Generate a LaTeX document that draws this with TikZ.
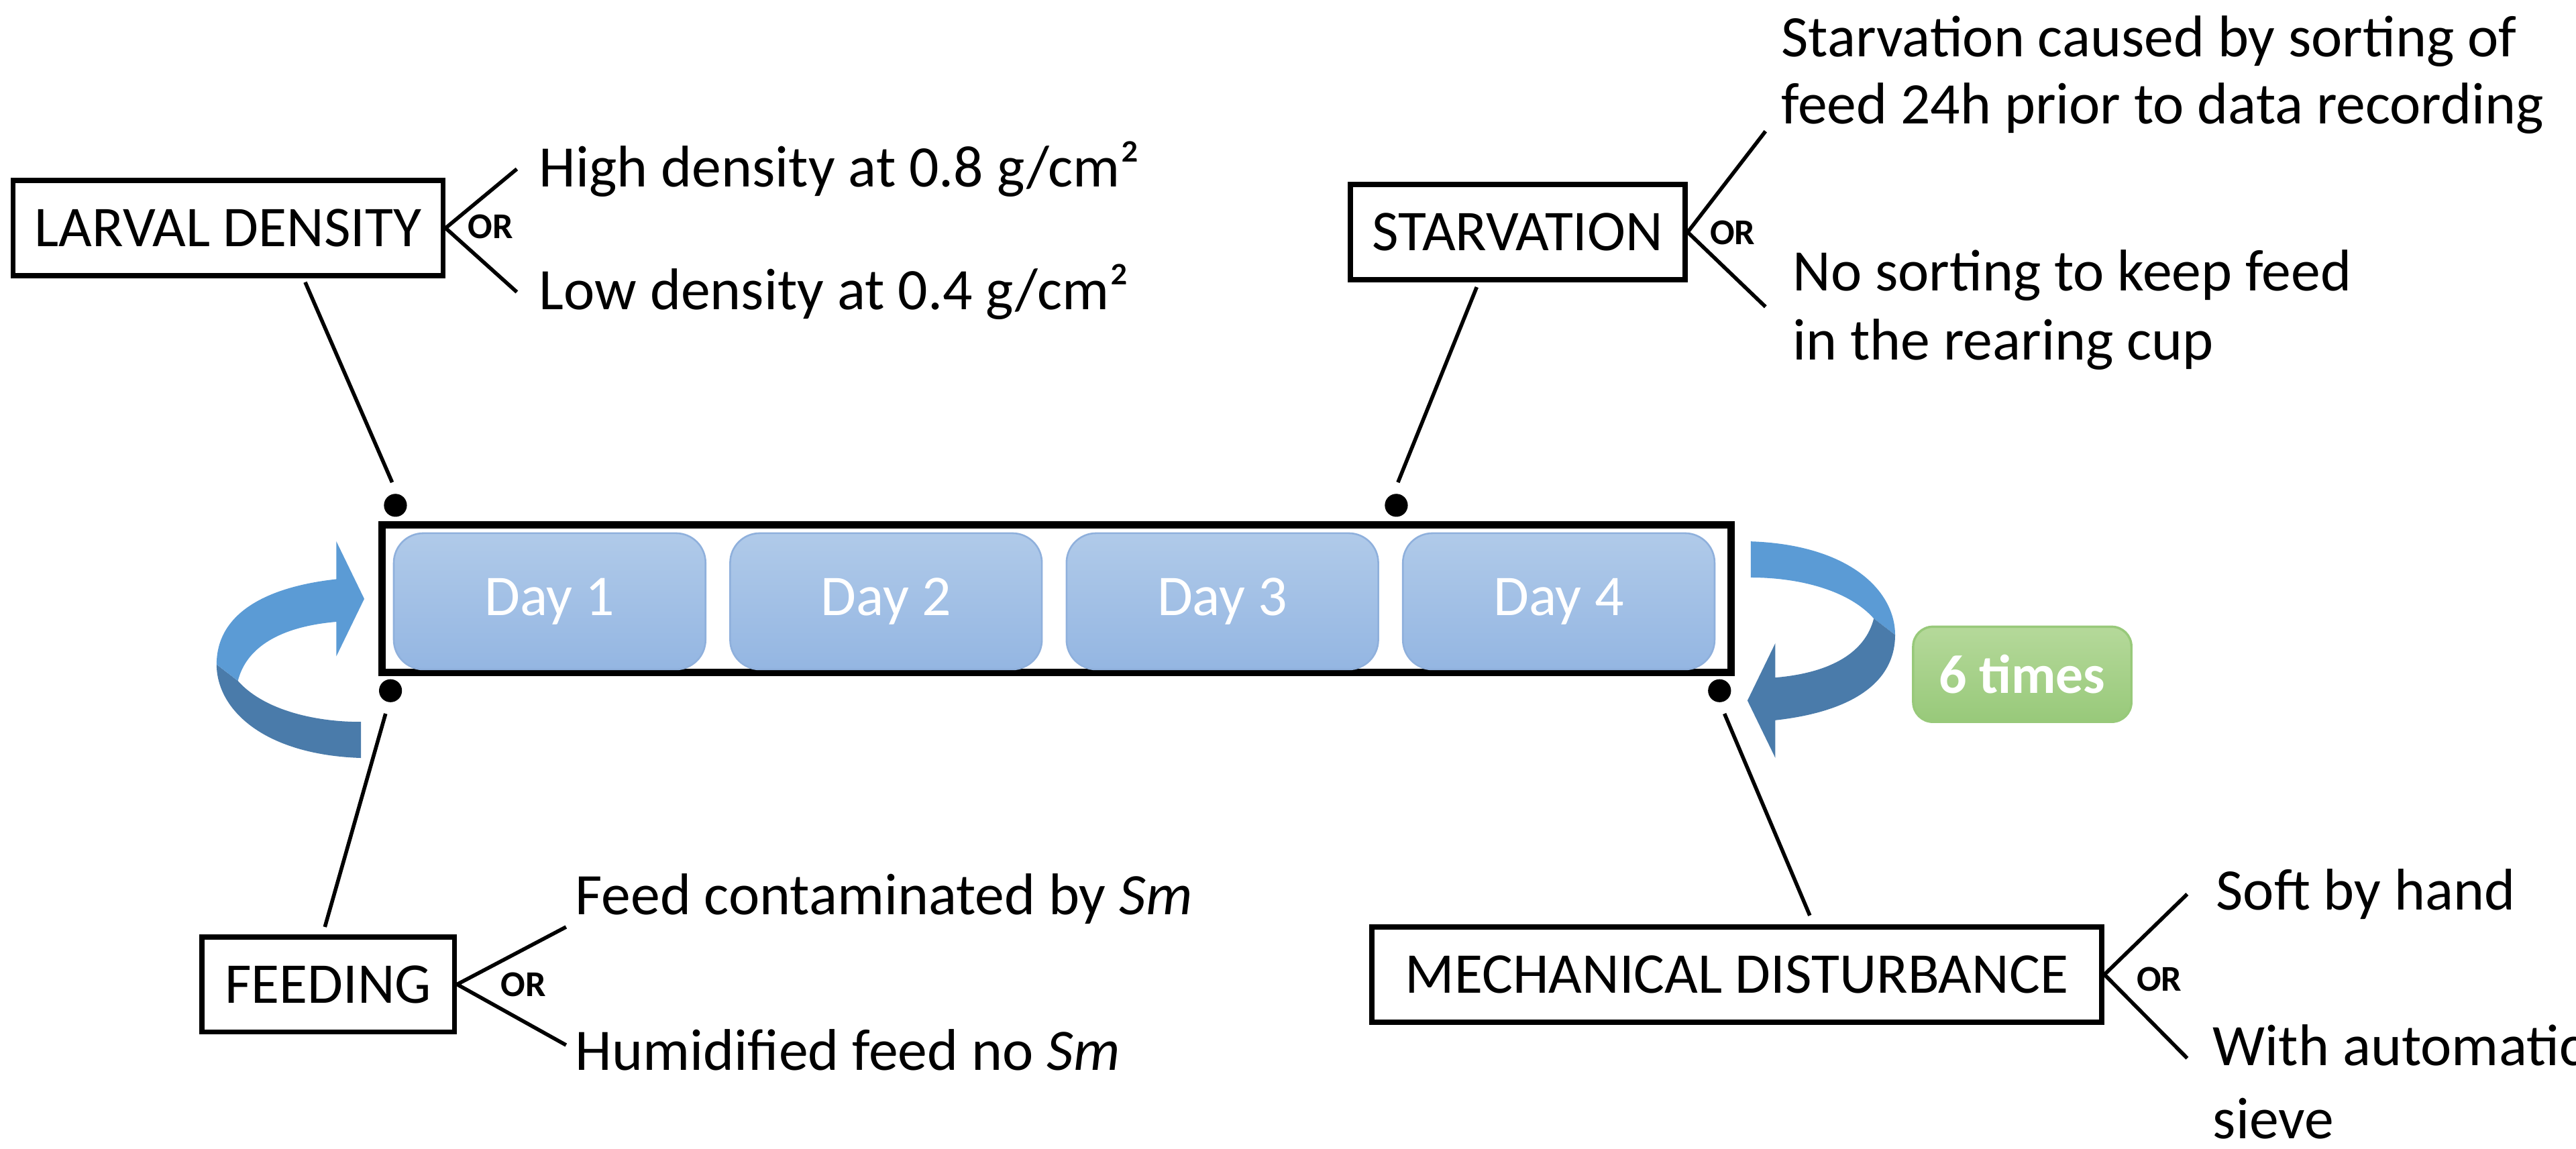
\documentclass[tikz,border=0pt]{standalone}
\usepackage{fontspec}
\setmainfont{Carlito}
\usetikzlibrary{calc}
\begin{document}
\begin{tikzpicture}[x=0.1mm,y=-0.1mm,
  lbl/.style={draw=black,line width=0.9pt,minimum height=5.8mm,inner xsep=1mm,font=\fontsize{10}{11}\selectfont},
  txt/.style={anchor=west,inner sep=0pt,font=\fontsize{10.2}{12}\selectfont},
  ortxt/.style={inner sep=0pt,font=\fontsize{6.3}{7}\bfseries\selectfont},
  conn/.style={line width=0.65pt},
  dot/.style={circle,fill=black,inner sep=0pt,minimum size=1.4mm},
  day/.style={rounded corners=1.8mm,top color=dayT,bottom color=dayB,draw=dayD,line width=0.3pt,minimum width=19mm,minimum height=8.3mm,text=white,font=\fontsize{10}{11}\selectfont},
]
\definecolor{dayT}{HTML}{B0CAE9}
\definecolor{dayB}{HTML}{94B6E2}
\definecolor{dayD}{HTML}{8FB0DC}
\definecolor{arL}{HTML}{5B9BD5}
\definecolor{arD}{HTML}{4A7BAA}
\definecolor{grT}{HTML}{B5D99A}
\definecolor{grB}{HTML}{98C97A}
\useasboundingbox (0,0) rectangle (1570,700);
% timeline
\node[draw=black,line width=1.3pt,minimum width=82.2mm,minimum height=9mm,inner sep=0pt] (tl) at (644,365) {};
\node[day] (d1) at (335,366.5) {Day 1};
\node[day] (d2) at (540,366.5) {Day 2};
\node[day] (d3) at (745,366.5) {Day 3};
\node[day] (d4) at (950,366.5) {Day 4};
% dots
\node[dot] (p1) at (241,308) {};
\node[dot] (p2) at (851,308) {};
\node[dot] (p3) at (238,421) {};
\node[dot] (p4) at (1048,421) {};
% label boxes
\node[lbl,minimum width=26.2mm] (ld) at (139,139) {LARVAL DENSITY};
\node[lbl,minimum width=20.4mm] (st) at (925,141.5) {STARVATION};
\node[lbl,minimum width=15.4mm] (fe) at (200,600) {FEEDING};
\node[lbl,minimum width=44.5mm] (md) at (1058.5,594) {MECHANICAL DISTURBANCE};
% connectors to dots
\coordinate (ldb) at (186,172);
\coordinate (stb) at (900,175);
\coordinate (feb) at (198,565);
\coordinate (mdb) at (1103,558);
\draw[conn] (ldb) -- ($(p1)+(-2,-14)$);
\draw[conn] (stb) -- ($(p2)+(1,-14)$);
\draw[conn] (feb) -- ($(p3)+(-3,14)$);
\draw[conn] (mdb) -- ($(p4)+(3,14)$);
% OR brackets
\coordinate (a1) at (315,103); \coordinate (a2) at (315,178);
\draw[conn] (a1) -- (ld.east) -- (a2);
\node[ortxt] at (299,138) {OR};
\node[txt] at (328,103) {High density at 0.8 g/cm²};
\node[txt] at (328,178) {Low density at 0.4 g/cm²};
\coordinate (b1) at (1076,80); \coordinate (b2) at (1076,187);
\draw[conn] (b1) -- (st.east) -- (b2);
\node[ortxt] at (1056,142) {OR};
\node[txt] at (1085,25) {Starvation caused by sorting of};
\node[txt] at (1085,66) {feed 24h prior to data recording};
\node[txt] at (1092,168) {No sorting to keep feed};
\node[txt] at (1092,210) {in the rearing cup};
\coordinate (c1) at (345,565); \coordinate (c2) at (345,637);
\draw[conn] (c1) -- (fe.east) -- (c2);
\node[ortxt] at (319,600) {OR};
\node[txt] at (350,548) {Feed contaminated by \textit{Sm}};
\node[txt] at (350,640) {Humidified feed no \textit{Sm}};
\coordinate (e1) at (1333,545); \coordinate (e2) at (1333,645);
\draw[conn] (e1) -- (md.east) -- (e2);
\node[ortxt] at (1316,597) {OR};
\node[txt] at (1350,545) {Soft by hand};
\node[txt] at (1348,637) {With automatic};
\node[txt] at (1348,682) {sieve};
% 6 times
\node[rounded corners=1.2mm,top color=grT,bottom color=grB,draw=grB,minimum width=13.3mm,minimum height=5.8mm,text=white,font=\fontsize{9.5}{11}\bfseries\selectfont] (six) at (1232.5,411) {6 times};
% curved arrows
\foreach \ang/\cu/\cl in {0/arL/arD,180/arD/arL}{
\begin{scope}[rotate around={\ang:(643.5,396)}]
\fill[\cl] (220,462) .. controls (160,460) and (132,432) .. (132,405) -- (145,415) .. controls (160,432) and (190,440) .. (220,440) -- cycle;
\fill[\cu] (132,405) .. controls (132,375) and (160,358) .. (205,353) -- (205,330) -- (222,365) -- (205,400) -- (205,379) .. controls (170,382) and (150,395) .. (145,415) -- cycle;
\end{scope}}
\end{tikzpicture}
\end{document}
